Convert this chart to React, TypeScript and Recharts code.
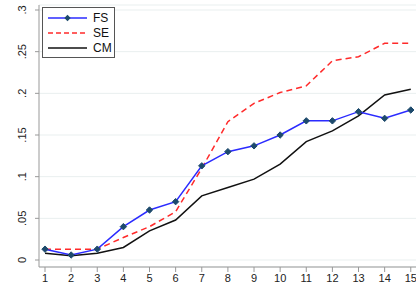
import React from 'react';
import { LineChart, Line, XAxis, YAxis, CartesianGrid } from 'recharts';

const periods = [1, 2, 3, 4, 5, 6, 7, 8, 9, 10, 11, 12, 13, 14, 15];
const fsValues = [0.013, 0.006, 0.013, 0.04, 0.06, 0.07, 0.113, 0.13, 0.137, 0.15, 0.167, 0.167, 0.178, 0.17, 0.18];
const seValues = [0.013, 0.013, 0.013, 0.027, 0.04, 0.058, 0.11, 0.166, 0.188, 0.201, 0.209, 0.239, 0.244, 0.26, 0.26];
const cmValues = [0.008, 0.005, 0.008, 0.015, 0.035, 0.048, 0.077, 0.087, 0.097, 0.115, 0.142, 0.155, 0.173, 0.198, 0.205];
const yTicks = [0, 0.05, 0.1, 0.15, 0.2, 0.25, 0.3];
const yTickLabels = ['0', '.05', '.1', '.15', '.2', '.25', '.3'];

const data = periods.map((p, i) => ({ p, FS: fsValues[i], SE: seValues[i], CM: cmValues[i] }));

const font = 'Liberation Sans, Arial, sans-serif';

const Diamond = (props: any) => {
  const { cx, cy, index } = props;
  if (cx == null || cy == null) return null;
  return (
    <path
      key={`d-${index}`}
      d={`M${cx},${cy - 3.2} L${cx + 3.2},${cy} L${cx},${cy + 3.2} L${cx - 3.2},${cy} Z`}
      fill="#1d4a6c"
      stroke="#1d4a6c"
    />
  );
};

const YTick = (props: any) => {
  const { x, y, payload } = props;
  const idx = yTicks.indexOf(payload.value);
  return (
    <text
      x={0}
      y={0}
      transform={`translate(${x - 7},${y}) rotate(-90)`}
      textAnchor="middle"
      fill="#222"
      fontSize={11}
      fontFamily={font}
    >
      {idx >= 0 ? yTickLabels[idx] : payload.value}
    </text>
  );
};

const legendItems = [
  { name: 'FS', color: '#2b2bff', dash: undefined, dot: true },
  { name: 'SE', color: '#ff2a2a', dash: '5 3', dot: false },
  { name: 'CM', color: '#111', dash: undefined, dot: false },
];

const LegendBox = () => (
  <div
    style={{
      position: 'absolute',
      left: 42,
      top: 7,
      border: '1px solid #555',
      background: '#fff',
      width: 71,
      padding: '2px 0',
      fontFamily: font,
      fontSize: 12,
      color: '#111',
    }}
  >
    {legendItems.map((e) => (
      <div key={e.name} style={{ display: 'flex', alignItems: 'center', height: 15 }}>
        <svg width={50} height={12}>
          <line x1={5} y1={6} x2={44} y2={6} stroke={e.color} strokeWidth={1.6} strokeDasharray={e.dash} />
          {e.dot && <path d="M24.5,2.8 L27.7,6 L24.5,9.2 L21.3,6 Z" fill="#1d4a6c" />}
        </svg>
        <span>{e.name}</span>
      </div>
    ))}
  </div>
);

export default function App() {
  return (
    <div style={{ position: 'absolute', left: 0, top: 0, width: 416, height: 285, background: '#fff' }}>
      <LineChart width={416} height={285} data={data} margin={{ top: 5, right: 0, left: 0, bottom: 0 }}>
        <CartesianGrid vertical={false} stroke="#e9efef" />
        <XAxis
          dataKey="p"
          type="number"
          domain={[0.77, 15.2]}
          ticks={periods}
          allowDataOverflow
          height={18}
          stroke="#999"
          tickSize={5}
          tick={{ fill: '#222', fontSize: 11, fontFamily: font }}
          interval={0}
        />
        <YAxis
          type="number"
          domain={[-0.0084, 0.306]}
          ticks={yTicks}
          allowDataOverflow
          width={39}
          stroke="#999"
          tickSize={4}
          interval={0}
          tick={<YTick />}
        />
        <Line dataKey="SE" stroke="#ff2a2a" strokeWidth={1.5} strokeDasharray="6 4" dot={false} isAnimationActive={false} />
        <Line dataKey="CM" stroke="#111" strokeWidth={1.5} dot={false} isAnimationActive={false} />
        <Line dataKey="FS" stroke="#2b2bff" strokeWidth={1.5} dot={<Diamond />} isAnimationActive={false} />
      </LineChart>
      <LegendBox />
    </div>
  );
}
